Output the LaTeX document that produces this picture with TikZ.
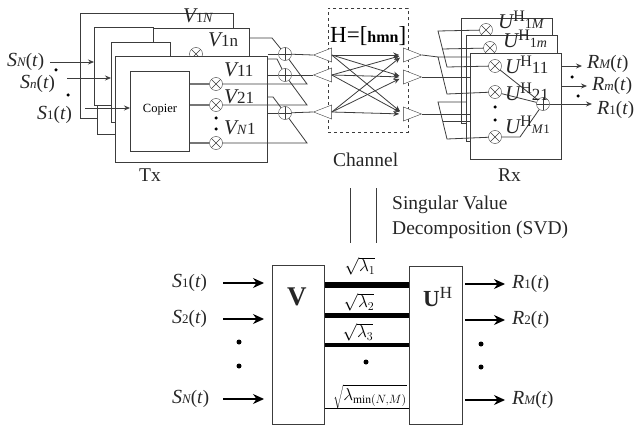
\documentclass[tikz,border=0pt]{standalone}
\usepackage{fontspec}
\setmainfont{Liberation Serif}
\usetikzlibrary{shapes.geometric,arrows.meta}
\newcommand\sz[1]{\fontsize{#1}{#1}\selectfont}
\newcommand\sig[3]{{\sz{20}\itshape #1}{\sz{13}\itshape #2}{\sz{19}(\textit{#3})}}
\newcommand\VV[2]{{\sz{21}\itshape V}{\sz{#2}#1}}
\newcommand\UH[2]{{\sz{21}\itshape U}\raisebox{7pt}{\sz{16}H}{\sz{#2}#1}}
\definecolor{ink}{HTML}{3C3C3C}
\tikzset{
  ln/.style={draw=ink,line width=0.8pt},
  arr/.style={ln,-{Stealth[length=6pt,width=5pt]}},
  barr/.style={draw=black,line width=1.1pt,-{Stealth[length=11pt,width=10pt]}},
  bx/.style={draw=ink,fill=white,line width=0.9pt},
  lbl/.style={anchor=base west,inner sep=0pt,text=black!85},
  mult/.style={circle,draw=ink,fill=white,minimum size=13pt,inner sep=0pt,
    path picture={\draw[ink] (path picture bounding box.north west)--(path picture bounding box.south east)
      (path picture bounding box.north east)--(path picture bounding box.south west);}},
  summ/.style={circle,draw=ink,minimum size=13pt,inner sep=0pt,
    path picture={\draw[ink] (path picture bounding box.north)--(path picture bounding box.south)
      (path picture bounding box.east)--(path picture bounding box.west);}},
  tri/.style={isosceles triangle,isosceles triangle apex angle=40,isosceles triangle stretches,
    draw=ink,fill=white,minimum width=14pt,minimum height=18pt,inner sep=0pt,anchor=apex},
  dot/.style={circle,fill=black,minimum size=3.5pt,inner sep=0pt},
  pipe/.style={draw=black,line width=#1},
}
\begin{document}
\begin{tikzpicture}[x=1pt,y=-1pt]
\useasboundingbox (0,0) rectangle (634,425);
% ---- Tx stack
\node[bx,minimum width=153pt,minimum height=105pt,inner sep=0,anchor=north west] (tA) at (80,13) {};
\node[bx,minimum width=152pt,minimum height=106pt,inner sep=0,anchor=north west] (tB) at (97,28) {};
\node[bx,minimum width=59pt,minimum height=78pt,inner sep=0,anchor=north west] (tC) at (94,27) {};
\node[mult] (mb) at (196,54) {};
\node[bx,minimum width=59pt,minimum height=80pt,inner sep=0,anchor=north west] (tD) at (111,42) {};
\node[bx,minimum width=152pt,minimum height=106pt,inner sep=0,anchor=north west] (tE) at (115,56) {};
\node[bx,minimum width=59pt,minimum height=80pt,inner sep=0,anchor=north west,font=\sz{12.5}] (cop) at (130,71) {\raisebox{7pt}{Copier}};
\node[mult] (m1) at (216,84) {};
\node[mult] (m2) at (216,105) {};
\node[mult] (m3) at (216,143) {};
\draw[ln,draw=ink!70,line width=1.2pt] (cop.east|-m1) -- (m1);
\draw[ln,draw=ink!70,line width=1.2pt] (cop.east|-m2) -- (m2);
\draw[ln,draw=ink!70,line width=1.2pt] (cop.east|-m3) -- (m3);
% sums
\node[summ] (s1) at (285,54) {};
\node[summ] (s2) at (285,75) {};
\node[summ] (s3) at (285,113) {};
\coordinate (c1) at (307,84);
\coordinate (c2) at (307,105);
\coordinate (c3) at (307,143);
\draw[ln] (m1) -- (c1) -- (s1);
\draw[ln] (m2) -- (c2) -- (s2);
\draw[ln] (m3) -- (c3) -- (s3);
\draw[ln] (tB.east|-0,38) -- (272,38) -- (s1);
\draw[ln] (tE.east|-0,59) -- (277,59) -- (s2);
\draw[ln] (tE.east|-0,97) -- (273,97) -- (s3);
\draw[ln] (tE.east|-s2) -- (s2);
\draw[ln] (tE.east|-s3) -- (s3);
\draw[ln] (tE.east|-s1) -- (s1);
% channel
\node[draw=ink,dashed,line width=0.6pt,minimum width=80pt,minimum height=124pt,inner sep=0,anchor=north west] (ch) at (328,8) {};
\node[tri,shape border rotate=180] (l1) at (313,55) {};
\node[tri,shape border rotate=180] (l2) at (313,75) {};
\node[tri,shape border rotate=180] (l3) at (313,112) {};
\node[tri] (r1) at (422,55) {};
\node[tri] (r2) at (422,77) {};
\node[tri] (r3) at (422,114) {};
\draw[ln] (s1) -- (l1.apex);
\draw[ln] (s2) -- (l2.apex);
\draw[ln] (s3) -- (l3.apex);
\foreach \a in {1,2,3}\foreach \b in {1,2,3}
  \draw[arr,shorten >=4pt] (l\a.lower side) -- (r\b.lower side);
\node[lbl,text=black] (hh) at (330,43) {{\sz{23}H=[}{\sz{16}\bfseries hmn}{\sz{23}]}};
% ---- Rx stack
\node[bx,minimum width=91pt,minimum height=105pt,inner sep=0,anchor=north west] (rA) at (461,18) {};
\node[mult] (n1) at (486,30) {};
\node[bx,minimum width=91pt,minimum height=106pt,inner sep=0,anchor=north west] (rB) at (466,35) {};
\node[mult] (n2) at (490,48) {};
\node[bx,minimum width=91pt,minimum height=106pt,inner sep=0,anchor=north west] (rC) at (470,53) {};
\node[mult] (n3) at (495,66) {};
\node[mult] (n4) at (495,92) {};
\node[mult] (n5) at (495,137) {};
\node[summ] (sr) at (543,104) {};
\coordinate (d1) at (438,31);
\coordinate (d2) at (447,67);
\coordinate (d3) at (438,57);
\coordinate (d4) at (447,94);
\coordinate (d5) at (438,102);
\coordinate (d6) at (447,139);
\coordinate (d7) at (442,49);
\coordinate (d8) at (443,121);
\draw[ln] (n1) -- (d1) -- (d2) -- (n3);
\draw[ln] (n2) -- (d7);
\draw[ln] (rC.west|-d3) -- (d3) -- (d4) -- (n4);
\draw[ln] (rB.west|-d5) -- (d5) -- (d6) -- (n5);
\draw[ln] (r1.apex) -- (d3);
\draw[ln] (r2.apex) -- (rC.west|-r2.apex);
\draw[ln] (r3.apex) -- (rC.west|-r3.apex);
\draw[ln] (d8) -- (rC.west|-d8);
\coordinate (e1) at (520,137);
\draw[ln] (n3) -- (sr);
\draw[ln] (n4) -- (sr);
\draw[ln] (n5) -- (e1) -- (sr);
\coordinate (o1) at (592,104);
\coordinate (o2) at (587,86);
\coordinate (o3) at (582,66);
\draw[arr] (sr) -- (o1);
\draw[arr] (rC.east|-o2) -- (o2);
\draw[arr] (rC.east|-o3) -- (o3);
% input arrows
\coordinate (i1) at (50,62);
\coordinate (i2) at (67,78);
\coordinate (i3) at (85,108);
\draw[arr] (i1) -- (tC.west|-i1);
\draw[arr] (i2) -- (tD.west|-i2);
\draw[arr] (i3) -- (cop.west|-i3);
% Tx labels
\node[lbl] (a1) at (7,67) {\sig{S}{N}{t}};
\node[lbl] (a2) at (20,89) {\sig{S}{n}{t}};
\node[lbl] (a3) at (37,120) {\sig{S}{\textup{1}}{t}};
\node[dot] (a4) at (56,70) {};
\node[dot] (a5) at (68,95) {};
\node[lbl] (v1) at (183,23) {{\sz{21}\itshape V}{\sz{14}1\textit{N}}};
\node[lbl] (v2) at (208,47) {\VV{1n}{17}};
\node[lbl] (v3) at (224,77) {\VV{11}{17}};
\node[lbl] (v4) at (224,104) {\VV{21}{17}};
\node[lbl] (v5) at (224,135) {{\sz{21}\itshape V}{\sz{14}\textit{N}}{\sz{17}1}};
\node[dot] (v6) at (216,118) {};
\node[dot] (v7) at (216,129) {};
\node[lbl,font=\sz{19.5}] (tx) at (139,181) {Tx};
\node[lbl,font=\sz{19.5}] (chl) at (333,166) {Channel};
\node[lbl,font=\sz{19.5}] (rx) at (498,181) {Rx};
% Rx labels
\node[lbl] (u1) at (498,29) {\UH{1\textit{M}}{14}};
\node[lbl] (u2) at (503,48) {\UH{1\textit{m}}{14}};
\node[lbl] (u3) at (505,74) {\UH{11}{17}};
\node[lbl] (u4) at (505,101) {\UH{21}{17}};
\node[lbl] (u5) at (505,134) {\UH{\textit{M}1}{13}};
\node[dot] (u6) at (495,107) {};
\node[dot] (u7) at (495,120) {};
\node[lbl] (b1) at (587,69) {\sig{R}{M}{t}};
\node[lbl] (b2) at (592,91) {\sig{R}{m}{t}};
\node[lbl] (b3) at (597,114) {\sig{R}{\textup{1}}{t}};
\node[dot] (b4) at (572,77) {};
\node[dot] (b5) at (578,96) {};
% SVD
\coordinate (p1) at (350,188);
\coordinate (p2) at (350,243);
\coordinate (p3) at (376,188);
\coordinate (p4) at (376,243);
\draw[ln,line width=1pt] (p1) -- (p2);
\draw[ln,line width=1pt] (p3) -- (p4);
\node[lbl,font=\sz{19.5}] (sv1) at (392,209) {Singular Value};
\node[lbl,font=\sz{19.5}] (sv2) at (392,234) {Decomposition (SVD)};
% ---- lower diagram
\node[bx,minimum width=52pt,minimum height=159pt,inner sep=0,anchor=north west,line width=1pt] (V) at (272,265) {};
\node[bx,minimum width=53pt,minimum height=158pt,inner sep=0,anchor=north west,line width=1pt] (U) at (409,266) {};
\node[lbl,font=\bfseries\sz{27}] (Vt) at (287,305) {V};
\node[lbl] (Ut) at (423,306) {{\bfseries\sz{23}U}\raisebox{8pt}{\sz{17}H}};
\draw[pipe=6.5pt] (V.east|-0,285) -- (U.west|-0,285);
\draw[pipe=5pt] (V.east|-0,315.5) -- (U.west|-0,315.5);
\draw[pipe=4pt] (V.east|-0,345) -- (U.west|-0,345);
\draw[pipe=1pt] (V.east|-0,408) -- (U.west|-0,408);
\node[inner sep=0,font=\sz{16.5}] (la1) at (360,266) {$\sqrt{\lambda_{1}}$};
\node[inner sep=0,font=\sz{16.5}] (la2) at (359,302) {$\sqrt{\lambda_{2}}$};
\node[inner sep=0,font=\sz{16.5}] (la3) at (358,332) {$\sqrt{\lambda_{3}}$};
\node[dot,minimum size=5pt] (la4) at (366,362) {};
\node[inner sep=0,font=\sz{16.5}] (la5) at (370,397) {$\sqrt{\lambda_{\min(N,M)}}$};
\coordinate (x1) at (223,283);
\coordinate (x2) at (223,319);
\coordinate (x3) at (223,399);
\coordinate (y1) at (505,284);
\coordinate (y2) at (505,320);
\coordinate (y3) at (505,400);
\coordinate (xe1) at (264,283);
\coordinate (xe2) at (264,319);
\coordinate (xe3) at (264,399);
\coordinate (ys1) at (465,284);
\coordinate (ys2) at (465,320);
\coordinate (ys3) at (465,400);
\draw[barr] (x1) -- (xe1);
\draw[barr] (x2) -- (xe2);
\draw[barr] (x3) -- (xe3);
\draw[barr] (ys1) -- (y1);
\draw[barr] (ys2) -- (y2);
\draw[barr] (ys3) -- (y3);
\node[lbl] (q1) at (172,287) {\sig{S}{\textup{1}}{t}};
\node[lbl] (q2) at (172,323) {\sig{S}{\textup{2}}{t}};
\node[lbl] (q3) at (172,403) {\sig{S}{N}{t}};
\node[lbl] (w1) at (512,288) {\sig{R}{\textup{1}}{t}};
\node[lbl] (w2) at (512,324) {\sig{R}{\textup{2}}{t}};
\node[lbl] (w3) at (512,404) {\sig{R}{M}{t}};
\node[dot,minimum size=5pt] (z1) at (239,342) {};
\node[dot,minimum size=5pt] (z2) at (239,366) {};
\node[dot,minimum size=5pt] (z3) at (481,344) {};
\node[dot,minimum size=5pt] (z4) at (481,367) {};
\end{tikzpicture}
\end{document}
